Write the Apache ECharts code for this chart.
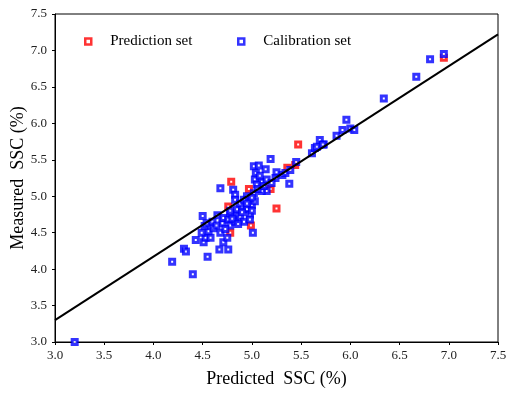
<!DOCTYPE html>
<html><head><meta charset="utf-8">
<script src="https://cdn.jsdelivr.net/npm/echarts@6/dist/echarts.min.js"></script>
<style>html,body{margin:0;padding:0;background:#fff}#c{width:515px;height:394px}</style>
</head><body><div id="c"></div>
<script>
const xTicks = [3.0,3.5,4.0,4.5,5.0,5.5,6.0,6.5,7.0,7.5];
const yTicks = [3.0,3.5,4.0,4.5,5.0,5.5,6.0,6.5,7.0,7.5];
const predictionSet = [
  [4.79,5.20],[4.78,4.50],[4.99,4.60],[5.25,4.83],[5.47,5.71],[4.97,5.10],
  [4.76,4.86],[5.19,5.10],[5.36,5.39],[5.44,5.43],[6.95,6.90]
];
const calibrationSet = [
  [3.20,3.00],[4.19,4.10],[4.31,4.28],[4.33,4.24],[4.40,3.93],[4.55,4.17],
  [4.43,4.40],[4.50,4.73],[4.68,5.11],[4.67,4.27],[4.76,4.27],[4.71,4.37],
  [4.75,4.43],[5.01,4.50],[4.51,4.37],[4.53,4.43],[4.58,4.43],[4.49,4.50],
  [4.56,4.52],[4.61,4.56],[4.68,4.50],[4.52,4.59],[4.54,4.63],[4.60,4.65],
  [4.65,4.74],[4.70,4.63],[4.71,4.70],[4.76,4.68],[4.78,4.60],[4.83,4.65],
  [4.78,4.77],[4.85,4.75],[4.81,5.09],[4.83,5.02],[4.83,4.95],[4.78,4.80],
  [4.85,4.82],[4.90,4.86],[4.95,4.82],[5.00,4.88],[5.03,4.93],[4.98,4.75],
  [4.88,4.72],[4.80,4.69],[4.92,4.65],[4.98,4.68],[4.95,5.00],[5.02,5.04],
  [5.02,5.41],[5.07,5.42],[5.14,5.37],[5.19,5.51],[5.04,5.32],[5.03,5.23],
  [5.10,5.20],[5.05,5.16],[5.15,5.23],[5.25,5.33],[5.24,5.25],[5.15,5.07],
  [5.10,5.07],[5.31,5.29],[5.34,5.32],[5.38,5.17],[5.39,5.36],[5.45,5.47],
  [5.61,5.59],[5.64,5.66],[5.69,5.77],[5.73,5.71],[5.66,5.68],[5.72,5.71],
  [5.86,5.83],[5.92,5.91],[6.00,5.93],[5.96,6.05],[6.04,5.91],[6.34,6.34],
  [6.67,6.64],[6.81,6.88],[6.95,6.95],[4.88,4.90],[4.92,4.95],[5.00,4.98],
  [4.86,4.62],[4.73,4.55],[4.64,4.60],[5.06,5.10],[5.12,5.14],[4.90,4.78],
  [5.00,4.80],[4.95,4.90],[5.08,5.28],[5.20,5.18]
];
const fitLine = [[3.0,3.30],[7.5,7.22]];

const serif = '"Liberation Serif","Times New Roman",serif';
const chart = echarts.init(document.getElementById('c'), null, {renderer:'canvas'});
const axisCommon = {
  min: 3, max: 7.5, interval: 0.5,
  axisLine: {show:true, onZero:false, lineStyle:{color:'#000', width:1}},
  axisTick: {show:true, inside:false, length:3, lineStyle:{color:'#000'}},
  splitLine: {show:false},
  nameMoveOverlap: false,
  axisLabel: {color:'#222', fontFamily: serif, fontSize: 13, formatter: v => v.toFixed(1)},
  nameTextStyle: {color:'#000', fontFamily: serif, fontSize: 18}
};
const markerSize = 5, markerBorder = 3;
chart.setOption({
  animation: false,
  backgroundColor: '#fff',
  grid: {left: 55, right: 17, top: 14, bottom: 52, show: true, borderColor:'#000', borderWidth:1,
         containLabel:false, outerBoundsMode:'none'},
  xAxis: Object.assign({}, axisCommon, {
    type:'value', name: 'Predicted  SSC (%)', nameLocation:'middle', nameGap: 28,
    axisLabel: Object.assign({}, axisCommon.axisLabel, {margin: 7})
  }),
  yAxis: Object.assign({}, axisCommon, {
    type:'value', name: 'Measured  SSC (%)', nameLocation:'middle', nameGap: 28, nameRotate: 90,
    axisLabel: Object.assign({}, axisCommon.axisLabel, {margin: 8})
  }),
  legend: [
    {data:['Prediction set'], left: 79, top: 29, itemWidth: 6, itemHeight: 6, itemGap: 0,
     itemStyle:{borderWidth: 2.5},
     textStyle:{fontFamily: serif, fontSize: 15, color:'#000', padding:[0,0,0,14]}},
    {data:['Calibration set'], left: 232, top: 29, itemWidth: 6, itemHeight: 6, itemGap: 0,
     itemStyle:{borderWidth: 2.5},
     textStyle:{fontFamily: serif, fontSize: 15, color:'#000', padding:[0,0,0,14]}}
  ],
  series: [
    {name:'Prediction set', type:'scatter', data: predictionSet, symbol:'rect', symbolSize: markerSize,
     itemStyle:{color:'#fff', borderColor:'#ff0000', borderWidth:markerBorder}, z: 2, clip: true},
    {name:'Calibration set', type:'scatter', data: calibrationSet, symbol:'rect', symbolSize: markerSize,
     itemStyle:{color:'#fff', borderColor:'#0000ff', borderWidth:markerBorder}, z: 3, clip: true},
    {name:'fit', type:'line', data: fitLine, symbol:'none', lineStyle:{color:'#000', width:2}, z: 5, silent: true}
  ]
});
</script></body></html>
